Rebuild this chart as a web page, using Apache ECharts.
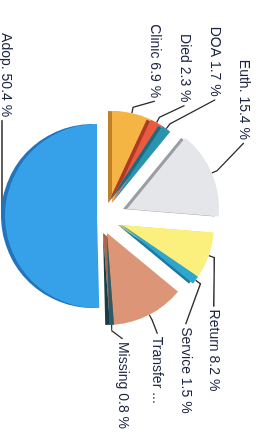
<!DOCTYPE html>
<html>
<head>
<meta charset="utf-8">
<script src="https://cdn.jsdelivr.net/npm/echarts@6/dist/echarts.min.js"></script>
<style>
    html, body { margin: 0; padding: 0; background: #fff; }
    body { width: 260px; height: 439px; overflow: hidden; position: relative; }
    /* chart is drawn upright, then turned a quarter turn like the photo */
    #chart {
        position: absolute; left: 0; top: 0;
        width: 439px; height: 260px;
        transform-origin: 0 0;
        transform: translate(260px, 0) rotate(90deg);
    }
</style>
</head>
<body>
<div id="chart"></div>
<script>
; (function () {
    const names = ['Clinic', 'Died', 'DOA', 'Euth.', 'Return', 'Service', 'Transfer', 'Missing', 'Adop.'];
    const values = [6.9, 2.3, 1.7, 15.4, 8.2, 1.5, 12.8, 0.8, 50.4];
    // which pulled-out piece each slice belongs to
    const groups = [0, 0, 0, 1, 2, 2, 3, 3, 4];

    const colors = ['#f4b545', '#ea5a3e', '#2a93ad', '#e4e6e9', '#fbef7e', '#2ea6cf', '#dc9577', '#2c5a66', '#36a0e8'];
    const shades = ['#c0802a', '#b03828', '#1d6a80', '#9a9ea4', '#c8b850', '#1d7aa0', '#a8684e', '#1c3c44', '#2275bb'];

    // centre of each pulled-out piece (upright chart coords)
    const pieceCenters = [[203, 148], [209, 133], [225, 138], [233, 153], [216, 163]];
    const R = 92;

    // where each label's text sits, measured from the point the line leaves the slice
    const labelOffsets = {
        'Clinic': [-15, -23],
        'Died': [-20, -28],
        'DOA': [-32, -49],
        'Euth.': [-33, -32],
        'Adop.': [-100, -1],
        'Return': [54, -5],
        'Service': [47, 10],
        'Transfer': [22, -8],
        'Missing': [17, -11]
    };

    const chart = echarts.init(document.getElementById('chart'));

    function labelText(p) {
        if (p.name === 'Transfer') {
            return 'Transfer ...';
        }
        return p.name + ' ' + p.value + ' %';
    }

    function placeLabel(params) {
        const off = labelOffsets[names[params.dataIndex]];
        const pts = params.labelLinePoints;
        if (!off || !pts) {
            return {};
        }
        const p0 = pts[0];
        // short step straight out of the slice
        const dx = pts[1][0] - p0[0], dy = pts[1][1] - p0[1];
        const len = Math.sqrt(dx * dx + dy * dy) || 1;
        const step = names[params.dataIndex] === 'Adop.' ? 3 : 6;
        const p1 = [p0[0] + dx / len * step, p0[1] + dy / len * step];
        const left = off[0] < 0;
        const tx = p0[0] + off[0], ty = p0[1] + off[1];
        let p2 = [tx + (left ? 3 : -3), ty];
        if (names[params.dataIndex] === 'Adop.') {
            p2 = [tx + 3, p1[1]];
        }
        return {
            x: tx,
            y: ty,
            align: left ? 'right' : 'left',
            verticalAlign: 'middle',
            labelLinePoints: [p0, p1, p2]
        };
    }

    function pieceSeries(g) {
        return {
            type: 'pie',
            center: pieceCenters[g],
            radius: [0, R],
            startAngle: 180,
            clockwise: true,
            silent: true,
            animation: false,
            avoidLabelOverlap: false,
            label: {
                formatter: labelText,
                fontFamily: 'Liberation Sans',
                fontSize: 14,
                color: '#1b2442'
            },
            labelLine: {
                length: 10,
                length2: 10,
                lineStyle: { color: '#2d2d2d', width: 1.3 }
            },
            labelLayout: placeLabel,
            data: values.map((v, i) => {
                const on = groups[i] === g;
                return {
                    name: names[i],
                    value: v,
                    label: { show: on },
                    labelLine: { show: on },
                    itemStyle: on ? {
                        color: colors[i],
                        borderWidth: 0,
                        shadowColor: shades[i],
                        shadowBlur: 0,
                        shadowOffsetY: 4
                    } : { color: 'transparent', borderWidth: 0 }
                };
            })
        };
    }

    chart.setOption({
        backgroundColor: '#fff',
        series: [0, 1, 2, 3, 4].map(pieceSeries)
    });
})()
</script>
</body>
</html>
